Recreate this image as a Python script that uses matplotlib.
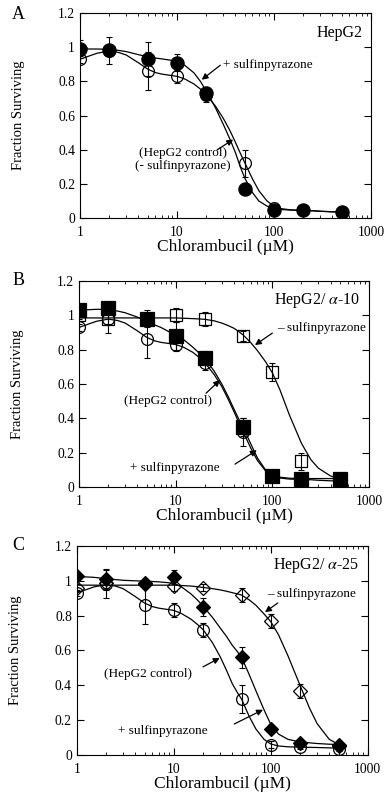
import numpy as np
import matplotlib.pyplot as plt

plt.rcParams['font.family'] = ['Liberation Serif', 'DejaVu Serif']
plt.rcParams['mathtext.fontset'] = 'stix'

# chlorambucil doses (uM)
dose = [1, 2, 5, 10, 20, 50, 100, 200, 500]

# HepG2 control (open circles), same in every panel
ctrl = [0.93, 0.98, 0.86, 0.83, 0.72, 0.32, 0.06, 0.045, 0.035]
ctrl_err = [0.02, 0.08, 0.11, 0.04, 0.04, 0.08, 0.02, 0.01, 0.01]

# A: HepG2 + sulfinpyrazone
a_sulf = [0.99, 0.985, 0.93, 0.91, 0.73, 0.17, 0.05, 0.045, 0.035]
a_sulf_err = [0.05, 0.02, 0.10, 0.05, 0.04, 0.02, 0.01, 0.01, 0.01]

# B: HepG2/alpha-10
b_plus = [1.03, 1.04, 0.98, 0.88, 0.75, 0.35, 0.065, 0.05, 0.05]
b_plus_err = [0.03, 0.02, 0.05, 0.08, 0.04, 0.05, 0.01, 0.01, 0.01]
b_minus = [1.0, 0.98, 0.98, 1.0, 0.98, 0.88, 0.67, 0.15, 0.04]
b_minus_err = [0.02, 0.03, 0.02, 0.04, 0.04, 0.03, 0.05, 0.05, 0.01]

# C: HepG2/alpha-25
c_plus = [1.03, 1.01, 0.99, 1.02, 0.85, 0.56, 0.15, 0.07, 0.06]
c_plus_err = [0.02, 0.06, 0.02, 0.04, 0.05, 0.06, 0.02, 0.01, 0.01]
c_minus = [0.96, 0.99, 0.98, 0.97, 0.96, 0.92, 0.77, 0.37, 0.05]
c_minus_err = [0.02, 0.03, 0.02, 0.03, 0.02, 0.04, 0.04, 0.04, 0.01]

# fitted curves
xc = [1, 1.5, 2, 2.5, 3, 4, 5, 6, 7, 8.5, 10, 12, 15, 17.5, 20, 25, 30, 35, 40, 45,
      50, 60, 70, 85, 100, 120, 150, 200, 250, 300, 400, 500]
a_ctrl_fit = [0.93, 0.965, 0.978, 0.97, 0.955, 0.91, 0.872, 0.852, 0.843, 0.836, 0.83, 0.815,
              0.785, 0.755, 0.725, 0.655, 0.585, 0.515, 0.445, 0.38, 0.325, 0.23, 0.16, 0.10,
              0.07, 0.055, 0.048, 0.045, 0.043, 0.04, 0.037, 0.035]
a_sulf_fit = [0.99, 0.99, 0.988, 0.982, 0.975, 0.957, 0.945, 0.937, 0.932, 0.925, 0.915, 0.895,
              0.85, 0.80, 0.745, 0.645, 0.55, 0.465, 0.385, 0.30, 0.235, 0.15, 0.10, 0.07,
              0.056, 0.05, 0.047, 0.045, 0.043, 0.04, 0.037, 0.035]
b_ctrl_fit = [0.93, 0.965, 0.978, 0.97, 0.955, 0.91, 0.872, 0.852, 0.843, 0.836, 0.83, 0.815,
              0.785, 0.755, 0.725, 0.655, 0.585, 0.51, 0.44, 0.375, 0.32, 0.225, 0.155, 0.095,
              0.065, 0.053, 0.047, 0.045, 0.043, 0.04, 0.037, 0.035]
b_plus_fit = [1.03, 1.035, 1.035, 1.025, 1.015, 0.99, 0.965, 0.945, 0.93, 0.905, 0.885, 0.86,
              0.815, 0.78, 0.75, 0.675, 0.60, 0.525, 0.455, 0.395, 0.345, 0.25, 0.17, 0.10,
              0.07, 0.058, 0.052, 0.05, 0.05, 0.05, 0.05, 0.05]
b_minus_fit = [0.985, 0.985, 0.985, 0.985, 0.985, 0.985, 0.985, 0.985, 0.985, 0.985, 0.985, 0.983,
               0.981, 0.979, 0.977, 0.968, 0.955, 0.94, 0.925, 0.905, 0.885, 0.84, 0.795, 0.73,
               0.665, 0.565, 0.42, 0.255, 0.16, 0.11, 0.065, 0.048]
c_ctrl_fit = [0.93, 0.965, 0.978, 0.97, 0.955, 0.91, 0.872, 0.852, 0.843, 0.836, 0.83, 0.812,
              0.78, 0.75, 0.72, 0.645, 0.565, 0.485, 0.41, 0.36, 0.32, 0.22, 0.15, 0.09,
              0.063, 0.052, 0.047, 0.045, 0.044, 0.043, 0.041, 0.04]
c_plus_fit = [1.025, 1.02, 1.012, 1.007, 1.003, 1.0, 0.998, 0.996, 0.994, 0.99, 0.985, 0.965,
              0.925, 0.89, 0.855, 0.79, 0.73, 0.68, 0.63, 0.595, 0.56, 0.46, 0.37, 0.26,
              0.175, 0.12, 0.09, 0.075, 0.07, 0.066, 0.062, 0.06]
c_minus_fit = [0.975, 0.975, 0.975, 0.975, 0.975, 0.975, 0.975, 0.975, 0.975, 0.975, 0.975, 0.973,
               0.97, 0.966, 0.962, 0.955, 0.948, 0.94, 0.932, 0.925, 0.918, 0.89, 0.86, 0.81,
               0.765, 0.69, 0.57, 0.40, 0.27, 0.18, 0.09, 0.06]

yticks = [0, 0.2, 0.4, 0.6, 0.8, 1, 1.2]
ytick_labels = ['0', '0.2', '0.4', '0.6', '0.8', '1', '1.2']
xticks = [1, 10, 100, 1000]
xtick_labels = ['1', '10', '100', '1000']

fig = plt.figure(figsize=(3.86, 7.96), dpi=100)
axA = fig.add_axes([0.207, 0.726, 0.754, 0.2575])
axB = fig.add_axes([0.205, 0.388, 0.751, 0.259])
axC = fig.add_axes([0.199, 0.0515, 0.754, 0.2626])


def setup(ax):
    ax.set_xscale('log')
    ax.set_xlim(1, 1000)
    ax.set_ylim(0, 1.2)
    ax.set_xticks(xticks)
    ax.set_xticklabels(xtick_labels)
    ax.set_yticks(yticks)
    ax.set_yticklabels(ytick_labels)
    ax.tick_params(which='both', direction='in', top=True, right=True, labelsize=9.8)
    ax.tick_params(which='major', length=5, width=0.8)
    ax.tick_params(which='minor', length=2.5, width=0.6)
    ax.tick_params(axis='x', pad=5.5)
    for s in ax.spines.values():
        s.set_linewidth(0.8)
    ax.set_xlabel('Chlorambucil (\u00b5M)', fontsize=12.5, labelpad=0.5)
    ax.set_ylabel('Fraction Surviving', fontsize=10.5)
    w = ax.get_position().width * 386
    ax.yaxis.set_label_coords(-55 / w, 0.5)


def series(ax, y, err, marker, filled, size):
    ax.errorbar(dose, y, yerr=err, fmt='none', ecolor='black', elinewidth=0.8,
                capsize=2.5, capthick=0.8, zorder=3)
    ax.plot(dose, y, linestyle='none', marker=marker, markersize=size,
            markerfacecolor='black' if filled else 'none',
            markeredgecolor='black', markeredgewidth=0.9, zorder=4 if filled else 3)


def arrow(ax, tail, tip):
    ax.annotate('', xy=tip, xytext=tail,
                arrowprops=dict(arrowstyle='-|>', color='black', lw=0.9,
                                mutation_scale=9, shrinkA=0, shrinkB=0))


# ---- A ----
setup(axA)
axA.plot(xc, a_ctrl_fit, color='black', lw=0.9)
axA.plot(xc, a_sulf_fit, color='black', lw=0.9)
series(axA, ctrl, ctrl_err, 'o', False, 8.5)
series(axA, a_sulf, a_sulf_err, 'o', True, 9.5)
axA.text(0.97, 0.905, 'HepG2', transform=axA.transAxes, ha='right', va='center', fontsize=11.5)
axA.text(30, 0.895, '+ sulfinpyrazone', ha='left', va='center', fontsize=9.5)
arrow(axA, (28, 0.895), (18, 0.81))
axA.text(11.5, 0.345, '(HepG2 control)\n(- sulfinpyrazone)', ha='center', va='center',
         fontsize=9.5, linespacing=1.1)
arrow(axA, (26, 0.40), (38, 0.46))
fig.text(0.047, 0.982, 'A', fontsize=13, ha='center', va='center')

# ---- B ----
setup(axB)
axB.plot(xc, b_ctrl_fit, color='black', lw=0.9)
axB.plot(xc, b_plus_fit, color='black', lw=0.9)
axB.plot(xc, b_minus_fit, color='black', lw=0.9)
series(axB, ctrl, ctrl_err, 'o', False, 8.5)
series(axB, b_minus, b_minus_err, 's', False, 8)
series(axB, b_plus, b_plus_err, 's', True, 9.5)
axB.text(0.97, 0.905, 'HepG2/ $\\alpha$-10', transform=axB.transAxes, ha='right', va='center', fontsize=11.5)
axB.text(112, 0.926, '\u2013 sulfinpyrazone', ha='left', va='center', fontsize=9.5)
arrow(axB, (100, 0.897), (66, 0.827))
axB.text(8.3, 0.50, '(HepG2 control)', ha='center', va='center', fontsize=9.5)
arrow(axB, (20.6, 0.547), (28.7, 0.623))
axB.text(9.8, 0.11, '+ sulfinpyrazone', ha='center', va='center', fontsize=9.5)
arrow(axB, (41, 0.134), (69, 0.215))
fig.text(0.047, 0.648, 'B', fontsize=13, ha='center', va='center')

# ---- C ----
setup(axC)
axC.plot(xc, c_ctrl_fit, color='black', lw=0.9)
axC.plot(xc, c_plus_fit, color='black', lw=0.9)
axC.plot(xc, c_minus_fit, color='black', lw=0.9)
series(axC, ctrl, ctrl_err, 'o', False, 8.5)
series(axC, c_minus, c_minus_err, 'D', False, 7)
series(axC, c_plus, c_plus_err, 'D', True, 7.5)
axC.text(0.97, 0.905, 'HepG2/ $\\alpha$-25', transform=axC.transAxes, ha='right', va='center', fontsize=11.5)
axC.text(91, 0.925, '\u2013 sulfinpyrazone', ha='left', va='center', fontsize=9.5)
arrow(axC, (118, 0.873), (87, 0.82))
axC.text(5.4, 0.465, '(HepG2 control)', ha='center', va='center', fontsize=9.5)
arrow(axC, (20, 0.506), (29.7, 0.557))
axC.text(7.7, 0.138, '+ sulfinpyrazone', ha='center', va='center', fontsize=9.5)
arrow(axC, (42, 0.178), (83, 0.26))
fig.text(0.047, 0.315, 'C', fontsize=13, ha='center', va='center')

fig.savefig('out.png', dpi=100)
